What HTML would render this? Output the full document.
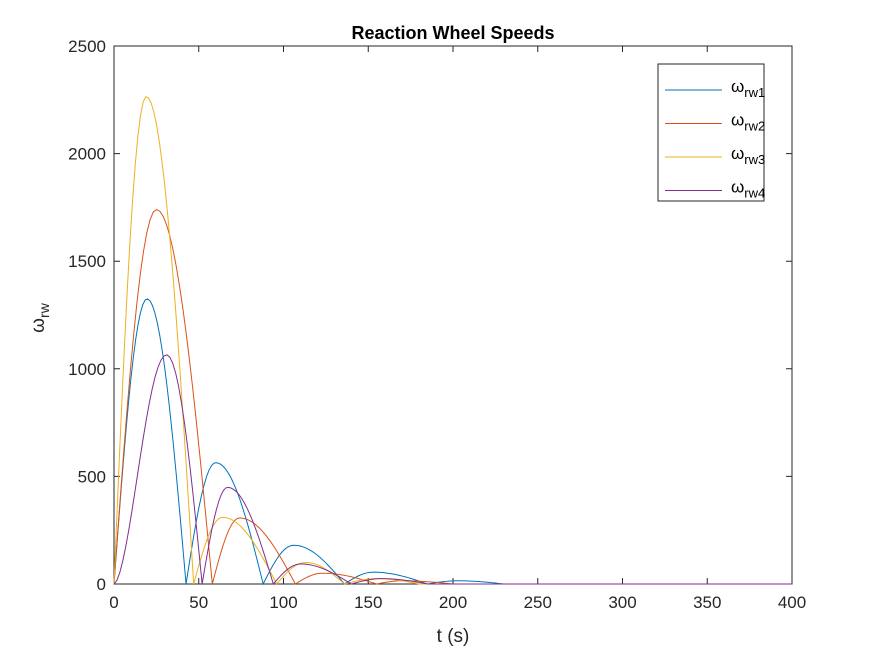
<!DOCTYPE html>
<html><head><meta charset="utf-8"><style>
body{margin:0;background:#fff}
svg text{font-family:"Liberation Sans",sans-serif}
</style></head><body>
<svg id="c" width="875" height="656" xmlns="http://www.w3.org/2000/svg">
<rect width="875" height="656" fill="#fff"/>
<text x="453" y="39" text-anchor="middle" font-size="18" font-weight="bold">Reaction Wheel Speeds</text>
<g id="plot"></g>
<text x="453" y="642" text-anchor="middle" font-size="19" fill="#262626">t (s)</text>
<text transform="translate(44,318) rotate(-90)" text-anchor="middle" font-size="19" fill="#262626">ω<tspan font-size="14" dy="5">rw</tspan></text>
</svg>
<script>
const xTicks=[0,50,100,150,200,250,300,350,400];
const yTicks=[0,500,1000,1500,2000,2500];
const seriesNames=["rw1","rw2","rw3","rw4"];
const colors=["#0072BD","#D95319","#EDB120","#7E2F8E"];
// lobes: zero crossings and peaks (t, value)
const zeros1=[0,42.5,88,136,185,230];
const peakT1=[19.5,60,106,153,203];
const peakV1=[1325,564,180,55,15];
const zeros2=[0,58,107,155,200];
const peakT2=[25,74,123,170];
const peakV2=[1740,307,50,15];
const zeros3=[0,47,96,136,180];
const peakT3=[19,64,113,155];
const peakV3=[2265,310,100,25];
const zeros4=[0,52,94,140,185];
const peakT4=[31,67,110,158];
const peakV4=[1065,449,93,25];
const allZeros=[zeros1,zeros2,zeros3,zeros4];
const allPeakT=[peakT1,peakT2,peakT3,peakT4];
const allPeakV=[peakV1,peakV2,peakV3,peakV4];
const X0=114,X1=792,Y0=584,Y1=46;
const xs=t=>X0+(t/400)*(X1-X0);
const ys=v=>Y0-(v/2500)*(Y0-Y1);
const NS="http://www.w3.org/2000/svg";
const g=document.getElementById('plot');
function mk(tag,attrs){const e=document.createElementNS(NS,tag);for(const k in attrs)e.setAttribute(k,attrs[k]);return e;}
const box=mk('rect',{x:X0,y:Y1,width:X1-X0,height:Y0-Y1,fill:'#fff',stroke:'#262626','stroke-width':1});


g.appendChild(box);
xTicks.forEach(t=>{
 const x=xs(t);
 const l=mk('path',{d:`M${x},${Y0}v-6M${x},${Y1}v6`,stroke:'#262626'});
 
 
 g.appendChild(l);
 const tx=mk('text',{x:x,y:Y0+24,'text-anchor':'middle','font-size':17,fill:'#262626'});
 tx.textContent=t;
 
 
 g.appendChild(tx);
});
yTicks.forEach(v=>{
 const y=ys(v);
 const l=mk('path',{d:`M${X0},${y}h6M${X1},${y}h-6`,stroke:'#262626'});
 
 
 g.appendChild(l);
 const tx=mk('text',{x:X0-8,y:y+6,'text-anchor':'end','font-size':17,fill:'#262626'});
 tx.textContent=v;
 
 
 g.appendChild(tx);
});
allZeros.forEach((zs,si)=>{
 const pT=allPeakT[si],pV=allPeakV[si];
 let d=`M${xs(0)},${ys(0)}`;
 for(let i=0;i<pT.length;i++){
  const a=zs[i],b=zs[i+1]!==undefined?zs[i+1]:pT[i]+(pT[i]-a),p=pT[i],v=pV[i];
  const N=30;
  for(let k=1;k<=N;k++){
   const t=a+(b-a)*k/N;
   let ph=t<=p?0.5*(t-a)/(p-a):0.5+0.5*(t-p)/(b-p);
   let s=Math.sin(Math.PI*ph);
   if(si===3&&i===0&&t<=p) s=Math.pow(s,1.7);
   d+=`L${xs(t).toFixed(2)},${ys(v*Math.max(0,Math.min(1,s))).toFixed(2)}`;
  }
 }
 d+=`L${xs(400)},${ys(0)}`;
 const p=mk('path',{d:d,fill:'none',stroke:colors[si],'stroke-width':1});
 
 
 g.appendChild(p);
});
const lg=mk('rect',{x:658,y:64,width:106,height:137,fill:'#fff',stroke:'#262626','stroke-width':1});


g.appendChild(lg);
seriesNames.forEach((n,i)=>{
 const y=90+i*33.5;
 const l=mk('line',{x1:665,x2:722,y1:y,y2:y,stroke:colors[i]});
 
 
 g.appendChild(l);
 const t=mk('text',{x:731,y:y+2,'font-size':17,fill:'#000'});
 t.innerHTML=`ω<tspan font-size="13" dy="5">${n}</tspan>`;
 
 
 g.appendChild(t);
});
</script>
</body></html>
